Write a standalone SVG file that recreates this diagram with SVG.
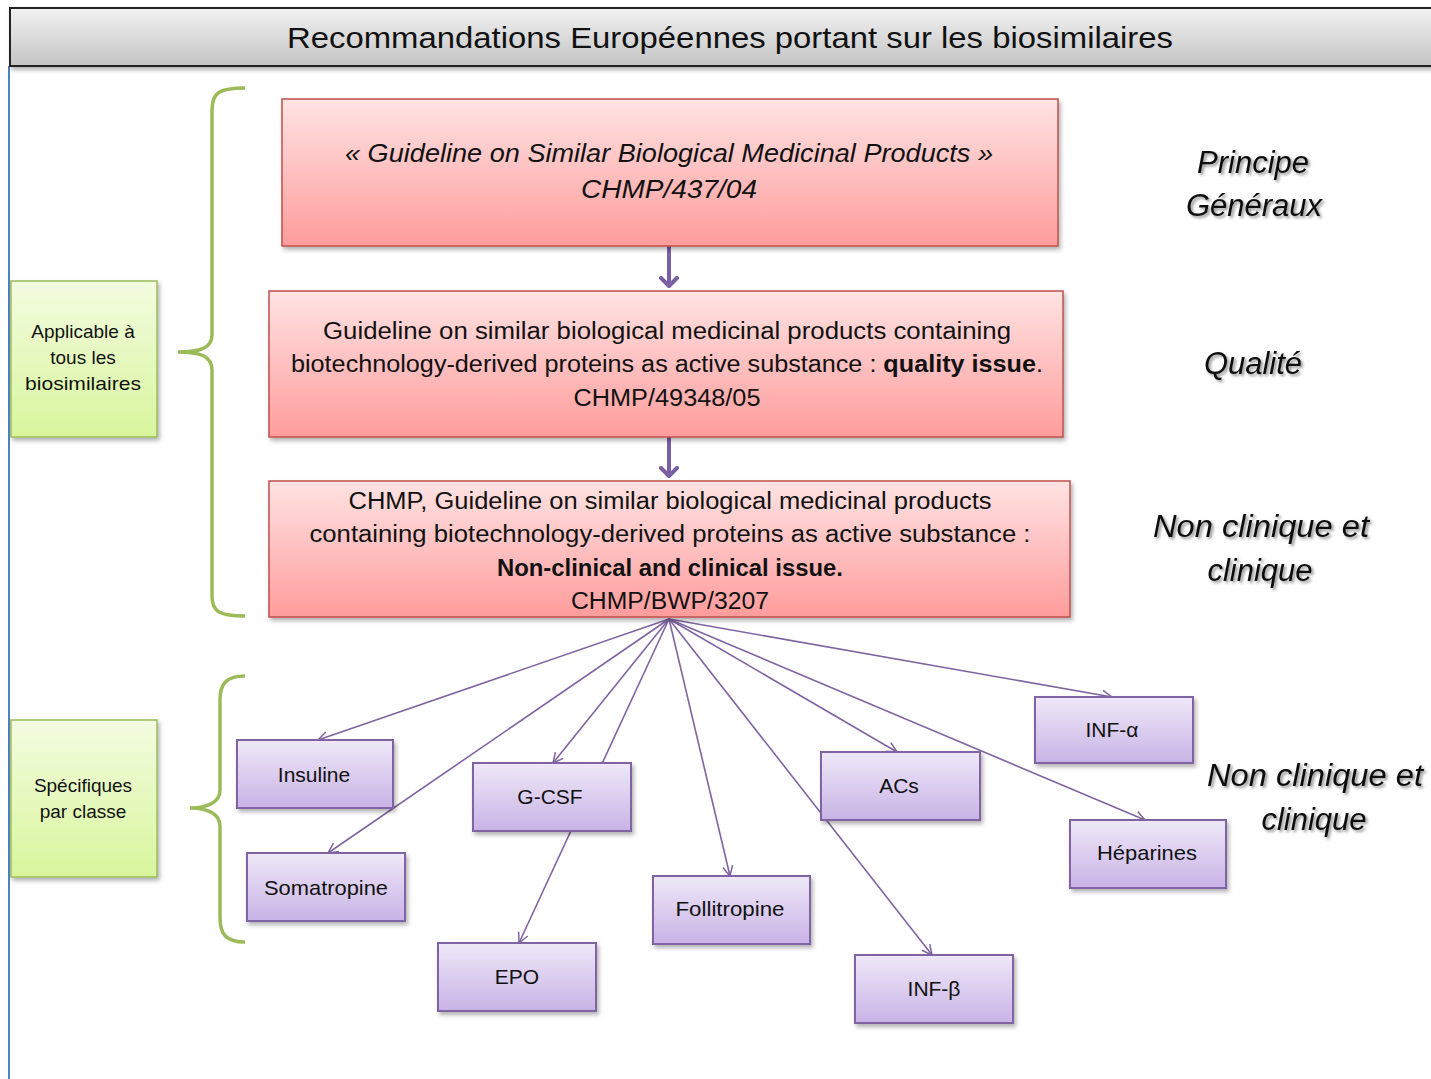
<svg xmlns="http://www.w3.org/2000/svg" width="1431" height="1079" viewBox="0 0 1431 1079">
<defs>
<linearGradient id="gTitle" x1="0" y1="0" x2="0" y2="1"><stop offset="0" stop-color="#f2f2f2"/><stop offset="1" stop-color="#c4c4c4"/></linearGradient>
<linearGradient id="gRed" x1="0" y1="0" x2="0" y2="1"><stop offset="0" stop-color="#ffe3e3"/><stop offset="1" stop-color="#ff9c9c"/></linearGradient>
<linearGradient id="gGreen" x1="0" y1="0" x2="0" y2="1"><stop offset="0" stop-color="#f3fce0"/><stop offset="1" stop-color="#d8f59c"/></linearGradient>
<linearGradient id="gPurple" x1="0" y1="0" x2="0" y2="1"><stop offset="0" stop-color="#efe8f8"/><stop offset="1" stop-color="#c8b3e6"/></linearGradient>
<filter id="sh" x="-5%" y="-5%" width="110%" height="120%"><feDropShadow dx="2" dy="3" stdDeviation="2" flood-color="#000" flood-opacity="0.3"/></filter>
<filter id="tsh" x="-5%" y="-10%" width="115%" height="130%"><feDropShadow dx="2" dy="2" stdDeviation="1.5" flood-color="#000" flood-opacity="0.45"/></filter>
<marker id="ah" markerWidth="14" markerHeight="14" refX="11" refY="6" orient="auto" markerUnits="userSpaceOnUse"><path d="M1,1 L11,6 L1,11" fill="none" stroke="#8064a2" stroke-width="1.5"/></marker>
<marker id="ahb" markerWidth="22" markerHeight="24" refX="10" refY="10" orient="auto" markerUnits="userSpaceOnUse"><path d="M2,2 L10,10 L2,18" fill="none" stroke="#7a5fa3" stroke-width="4" stroke-linecap="round" stroke-linejoin="round"/></marker>
</defs>
<style>
.t{font-family:"Liberation Sans",Arial,sans-serif;fill:#111;text-anchor:middle}
.red{fill:url(#gRed);stroke:#c0504d;stroke-width:1.5}
.grn{fill:url(#gGreen);stroke:#9bbb59;stroke-width:1.5}
.pur{fill:url(#gPurple);stroke:#8064a2;stroke-width:2}
.conn{stroke:#8064a2;stroke-width:1.6;fill:none}
.brace{stroke:#9bbb59;stroke-width:3.5;fill:none}
.lab{font-family:"Liberation Sans",Arial,sans-serif;font-style:italic;font-size:31px;fill:#111;text-anchor:middle}
</style>
<rect width="1431" height="1079" fill="#fff"/>
<line x1="9" y1="66" x2="9" y2="1079" stroke="#4f81bd" stroke-width="2"/>
<g id="title">
<rect x="10" y="8" width="1430" height="58" fill="url(#gTitle)" stroke="#222" stroke-width="2" filter="url(#sh)"/>
<text class="t" x="730" y="48" font-size="29" textLength="886" lengthAdjust="spacingAndGlyphs">Recommandations Européennes portant sur les biosimilaires</text>
</g>
<g id="connectors">
<line x1="669" y1="246" x2="669" y2="286" stroke="#7a5fa3" stroke-width="4" marker-end="url(#ahb)"/>
<line x1="669" y1="437" x2="669" y2="476" stroke="#7a5fa3" stroke-width="4" marker-end="url(#ahb)"/>
<line class="conn" x1="669" y1="619" x2="318" y2="740" marker-end="url(#ah)"/>
<line class="conn" x1="669" y1="619" x2="328" y2="853" marker-end="url(#ah)"/>
<line class="conn" x1="669" y1="619" x2="553" y2="763" marker-end="url(#ah)"/>
<line class="conn" x1="669" y1="619" x2="519" y2="943" marker-end="url(#ah)"/>
<line class="conn" x1="669" y1="619" x2="730" y2="876" marker-end="url(#ah)"/>
<line class="conn" x1="669" y1="619" x2="932" y2="955" marker-end="url(#ah)"/>
<line class="conn" x1="669" y1="619" x2="897" y2="752" marker-end="url(#ah)"/>
<line class="conn" x1="669" y1="619" x2="1145" y2="820" marker-end="url(#ah)"/>
<line class="conn" x1="669" y1="619" x2="1112" y2="697" marker-end="url(#ah)"/>
</g>
<g id="braces">
<path class="brace" d="M245,88 C220,88 212,92 212,110 L212,335 C212,348 200,352 178,352 C200,352 212,356 212,370 L212,596 C212,612 220,616 245,616"/>
<path class="brace" d="M245,676 C226,676 220,684 220,700 L220,790 C220,802 208,808 190,808 C208,808 220,814 220,826 L220,918 C220,934 226,942 245,942"/>
</g>
<g id="n-guideline">
<rect class="red" x="282" y="99" width="776" height="147" filter="url(#sh)"/>
<text class="t" x="669" y="162" font-size="25" font-style="italic" textLength="648" lengthAdjust="spacingAndGlyphs">« Guideline on Similar Biological Medicinal Products »</text>
<text class="t" x="669" y="198" font-size="25" font-style="italic" textLength="176" lengthAdjust="spacingAndGlyphs">CHMP/437/04</text>
</g>
<g id="n-quality">
<rect class="red" x="269" y="291" width="794" height="146" filter="url(#sh)"/>
<text class="t" x="667" y="339" font-size="23" textLength="688" lengthAdjust="spacingAndGlyphs">Guideline on similar biological medicinal products  containing</text>
<text class="t" x="667" y="372" font-size="23" textLength="752" lengthAdjust="spacingAndGlyphs">biotechnology-derived  proteins as active substance  : <tspan font-weight="bold">quality issue</tspan>.</text>
<text class="t" x="667" y="406" font-size="23" textLength="187" lengthAdjust="spacingAndGlyphs">CHMP/49348/05</text>
</g>
<g id="n-nonclinical">
<rect class="red" x="269" y="481" width="801" height="136" filter="url(#sh)"/>
<text class="t" x="670" y="509" font-size="23" textLength="643" lengthAdjust="spacingAndGlyphs">CHMP, Guideline on similar biological medicinal products</text>
<text class="t" x="670" y="542" font-size="23" textLength="721" lengthAdjust="spacingAndGlyphs">containing biotechnology-derived  proteins as active substance  :</text>
<text class="t" x="670" y="576" font-size="23" font-weight="bold" textLength="346" lengthAdjust="spacingAndGlyphs">Non-clinical and clinical issue.</text>
<text class="t" x="670" y="609" font-size="23" textLength="198" lengthAdjust="spacingAndGlyphs">CHMP/BWP/3207</text>
</g>
<g id="lab-principe" filter="url(#tsh)">
<text class="lab" x="1253" y="173">Principe</text>
<text class="lab" x="1254" y="216">Généraux</text>
</g>
<g id="lab-qualite" filter="url(#tsh)">
<text class="lab" x="1253" y="374">Qualité</text>
</g>
<g id="lab-nc1" filter="url(#tsh)">
<text class="lab" x="1261" y="537" textLength="216" lengthAdjust="spacingAndGlyphs">Non clinique et</text>
<text class="lab" x="1260" y="581">clinique</text>
</g>
<g id="lab-nc2" filter="url(#tsh)">
<text class="lab" x="1315" y="786" textLength="216" lengthAdjust="spacingAndGlyphs">Non clinique et</text>
<text class="lab" x="1314" y="830">clinique</text>
</g>
<g id="n-applicable">
<rect class="grn" x="11" y="281" width="146" height="156" filter="url(#sh)"/>
<text class="t" x="83" y="338" font-size="19">Applicable à</text>
<text class="t" x="83" y="364" font-size="19">tous les</text>
<text class="t" x="83" y="390" font-size="19" textLength="116" lengthAdjust="spacingAndGlyphs">biosimilaires</text>
</g>
<g id="n-specifiques">
<rect class="grn" x="11" y="720" width="146" height="157" filter="url(#sh)"/>
<text class="t" x="83" y="792" font-size="19">Spécifiques</text>
<text class="t" x="83" y="818" font-size="19">par classe</text>
</g>
<g id="n-insuline"><rect class="pur" x="237" y="740" width="156" height="68" filter="url(#sh)"/><text class="t" x="314" y="782" font-size="21">Insuline</text></g>
<g id="n-gcsf"><rect class="pur" x="473" y="763" width="158" height="68" filter="url(#sh)"/><text class="t" x="550" y="804" font-size="21">G-CSF</text></g>
<g id="n-somatropine"><rect class="pur" x="247" y="853" width="158" height="68" filter="url(#sh)"/><text class="t" x="326" y="895" font-size="21" textLength="124" lengthAdjust="spacingAndGlyphs">Somatropine</text></g>
<g id="n-epo"><rect class="pur" x="438" y="943" width="158" height="68" filter="url(#sh)"/><text class="t" x="517" y="984" font-size="21">EPO</text></g>
<g id="n-follitropine"><rect class="pur" x="653" y="876" width="157" height="68" filter="url(#sh)"/><text class="t" x="730" y="916" font-size="21" textLength="109" lengthAdjust="spacingAndGlyphs">Follitropine</text></g>
<g id="n-acs"><rect class="pur" x="821" y="752" width="159" height="68" filter="url(#sh)"/><text class="t" x="899" y="793" font-size="21">ACs</text></g>
<g id="n-infb"><rect class="pur" x="855" y="955" width="158" height="68" filter="url(#sh)"/><text class="t" x="934" y="996" font-size="21">INF-β</text></g>
<g id="n-infa"><rect class="pur" x="1035" y="697" width="158" height="66" filter="url(#sh)"/><text class="t" x="1112" y="737" font-size="21">INF-α</text></g>
<g id="n-heparines"><rect class="pur" x="1070" y="820" width="156" height="68" filter="url(#sh)"/><text class="t" x="1147" y="860" font-size="21" textLength="100" lengthAdjust="spacingAndGlyphs">Héparines</text></g>
</svg>
